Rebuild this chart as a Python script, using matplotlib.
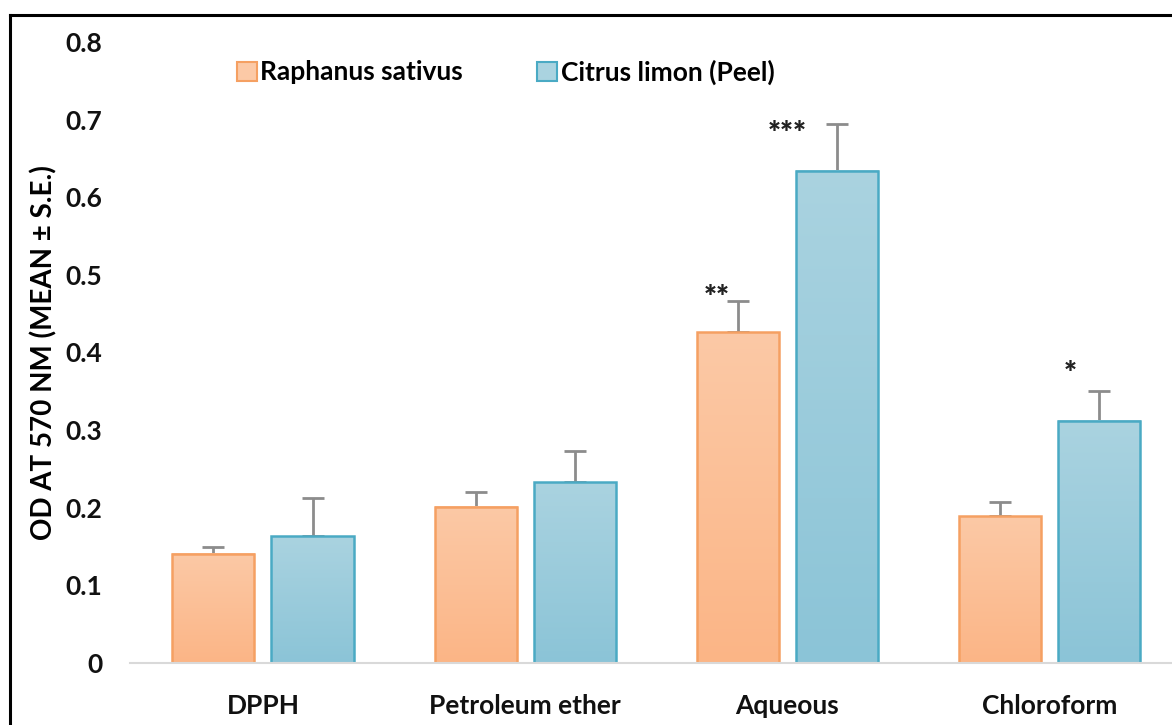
import matplotlib.pyplot as plt
from matplotlib.lines import Line2D
from matplotlib.patches import Patch
import numpy as np

plt.rcParams['font.family'] = ['Lato', 'DejaVu Sans']

categories = ['DPPH', 'Petroleum ether', 'Aqueous', 'Chloroform']
series_names = ['Raphanus sativus', 'Citrus limon (Peel)']
raphanus_mean = [0.141, 0.201, 0.426, 0.189]
raphanus_se = [0.009, 0.019, 0.040, 0.018]
citrus_mean = [0.163, 0.233, 0.634, 0.312]
citrus_se = [0.050, 0.040, 0.060, 0.038]
raphanus_sig = ['', '', '**', '']
citrus_sig = ['', '', '***', '*']

# styling
orange_top, orange_bot, orange_edge = '#fcc9a6', '#fbb586', '#f5a062'
blue_top, blue_bot, blue_edge = '#aad3e0', '#8bc4d7', '#4aaac4'
err_color = '#8c8c8c'
bar_w = 0.313
gap = 0.065

fig = plt.figure(figsize=(11.72, 7.25), dpi=100)
ax = fig.add_axes([130 / 1172, 62 / 725, 1 - 130 / 1172, 621 / 725])

x = np.arange(len(categories))
offset = (bar_w + gap) / 2


def gradient_bars(xpos, heights, top, bot, edge):
    cmap = plt.matplotlib.colors.LinearSegmentedColormap.from_list('g', [bot, top])
    grad = np.linspace(0, 1, 256).reshape(-1, 1)
    for xc, h in zip(xpos, heights):
        ax.imshow(grad, extent=[xc - bar_w / 2, xc + bar_w / 2, 0, h], origin='lower',
                  aspect='auto', cmap=cmap, zorder=2)
    ax.bar(xpos, heights, bar_w, facecolor='none', edgecolor=edge, linewidth=1.8, zorder=3)


gradient_bars(x - offset, raphanus_mean, orange_top, orange_bot, orange_edge)
gradient_bars(x + offset, citrus_mean, blue_top, blue_bot, blue_edge)

for xpos, m, e in [(x - offset, raphanus_mean, raphanus_se), (x + offset, citrus_mean, citrus_se)]:
    ax.errorbar(xpos, m, yerr=[np.zeros(len(e)), e], fmt='none', ecolor=err_color,
                elinewidth=2, capsize=8, capthick=2, zorder=1)

# significance stars sit a little left of the error bar tops, as in the original
star_dx = {'*': -0.11, '**': -0.08, '***': -0.19}
star_dy = {'*': 0.004, '**': -0.014, '***': -0.031}
for xpos, m, e, sig in [(x - offset, raphanus_mean, raphanus_se, raphanus_sig),
                        (x + offset, citrus_mean, citrus_se, citrus_sig)]:
    for xc, mm, ee, s in zip(xpos, m, e, sig):
        if s:
            ax.text(xc + star_dx[s], mm + ee + star_dy[s], s, ha='center', va='bottom',
                    fontsize=22, fontweight='heavy', color='#222222')

ax.set_xlim(-0.507, 3.466)
ax.set_ylim(0, 0.8)
ax.set_yticks(np.arange(0, 0.81, 0.1))
ax.set_yticklabels(['0'] + [f'{v:.1f}' for v in np.arange(0.1, 0.81, 0.1)])
ax.set_xticks(x)
ax.set_xticklabels(categories)
ax.tick_params(axis='both', length=0, labelsize=19, colors='#111111')
ax.tick_params(axis='y', pad=20)
ax.tick_params(axis='x', pad=22)
for lab in ax.get_xticklabels() + ax.get_yticklabels():
    lab.set_fontweight('bold')

for s in ['top', 'right', 'left']:
    ax.spines[s].set_visible(False)
ax.spines['bottom'].set_color('#d9d9d9')
ax.spines['bottom'].set_linewidth(1.5)
ax.spines['bottom'].set_zorder(4)

ax.set_ylabel('OD AT 570 NM (MEAN ± S.E.)', fontsize=20, fontweight='bold', labelpad=6)

handles = [Patch(facecolor=orange_top, edgecolor=orange_edge, linewidth=1.5),
           Patch(facecolor=blue_top, edgecolor=blue_edge, linewidth=1.5)]
fig.legend(handles, series_names, loc='center left', bbox_to_anchor=(213 / 1172, 1 - 72 / 725),
           ncol=2, frameon=False, handlelength=0.75, handleheight=0.75, handletextpad=0.15,
           columnspacing=2.8, prop={'size': 19, 'weight': 'bold'})

# outer frame lines (left and top)
fig.add_artist(Line2D([10 / 1172, 10 / 1172], [0, 1 - 15 / 725], color='black', lw=2.2))
fig.add_artist(Line2D([10 / 1172, 1], [1 - 15 / 725, 1 - 15 / 725], color='black', lw=2.2))

fig.savefig('out.png', dpi=100)
